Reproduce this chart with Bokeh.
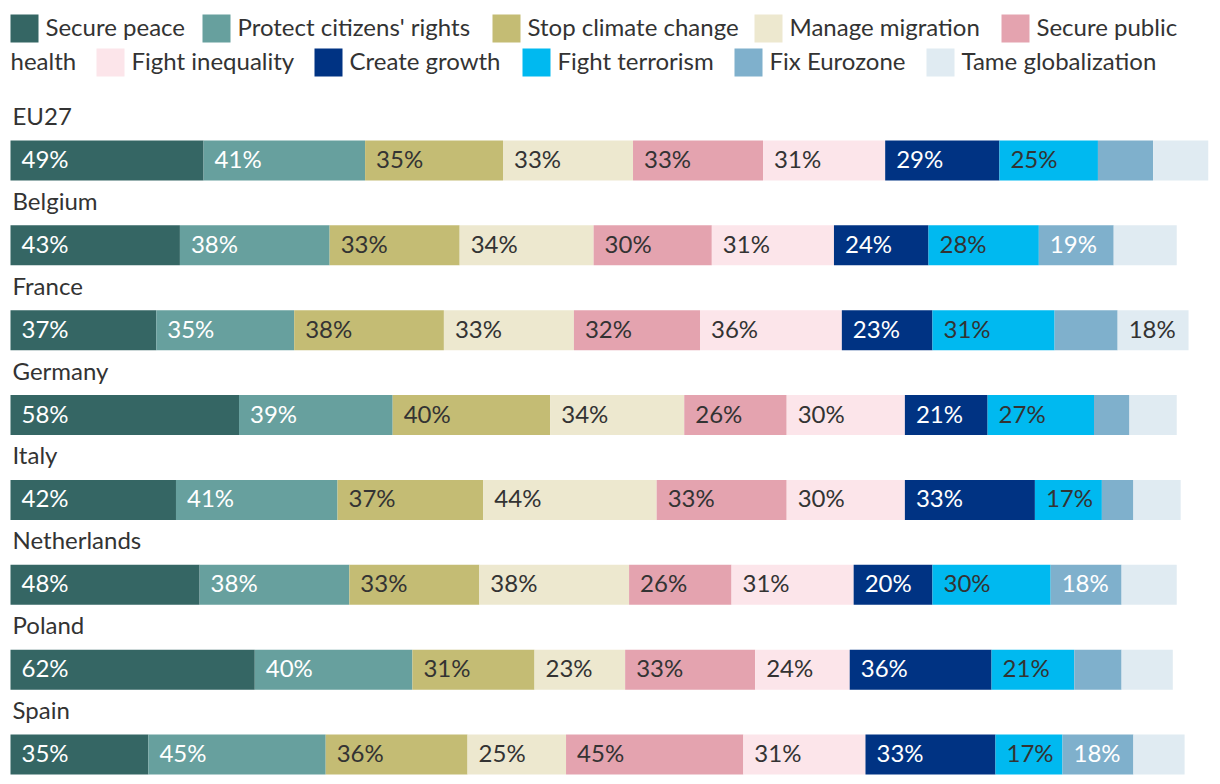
import numpy as np
from bokeh.plotting import figure
from bokeh.models import ColumnDataSource, Range1d
from bokeh.layouts import column
from bokeh.core.properties import value
from bokeh.embed import file_html
from bokeh.resources import INLINE

countries = ["EU27", "Belgium", "France", "Germany", "Italy", "Netherlands", "Poland", "Spain"]
categories = ["Secure peace", "Protect citizens' rights", "Stop climate change", "Manage migration",
              "Secure public health", "Fight inequality", "Create growth", "Fight terrorism",
              "Fix Eurozone", "Tame globalization"]
colors = ["#356664", "#67a09e", "#c4bc74", "#ede8cf", "#e4a3af",
          "#fce5ea", "#003383", "#00b9f0", "#7fb0cc", "#e0ebf2"]
label_colors = ["#ffffff", "#ffffff", "#333333", "#333333", "#333333",
                "#333333", "#ffffff", "#333333", "#ffffff", "#333333"]

secure_peace = [49, 43, 37, 58, 42, 48, 62, 35]
protect_rights = [41, 38, 35, 39, 41, 38, 40, 45]
stop_climate = [35, 33, 38, 40, 37, 33, 31, 36]
manage_migration = [33, 34, 33, 34, 44, 38, 23, 25]
public_health = [33, 30, 32, 26, 33, 26, 33, 45]
fight_inequality = [31, 31, 36, 30, 30, 31, 24, 31]
create_growth = [29, 24, 23, 21, 33, 20, 36, 33]
fight_terrorism = [25, 28, 31, 27, 17, 30, 21, 17]
fix_eurozone = [14, 19, 16, 9, 8, 18, 12, 18]
tame_globalization = [14, 16, 18, 12, 12, 14, 13, 13]

series = [secure_peace, protect_rights, stop_climate, manage_migration, public_health,
          fight_inequality, create_growth, fight_terrorism, fix_eurozone, tame_globalization]

FONT = "Lato"
W = 1212
PX_PER_PCT = 3.94
PITCH = 84.86
LEG_H = 92
BAR_H = 684

# ---------------- legend figure (pixel coordinates) ----------------
leg = figure(width=W, height=LEG_H, output_backend="svg", toolbar_location=None,
             x_range=Range1d(0, W), y_range=Range1d(LEG_H, 0),
             min_border=0, outline_line_color=None)
leg.axis.visible = False
leg.grid.visible = False

sq_x = [10, 202, 492, 754, 1001, 96, 314, 522, 734, 926]
sq_y = [28, 28, 28, 28, 28, 62, 62, 62, 62, 62]
leg_text = ["Secure peace", "Protect citizens' rights", "Stop climate change", "Manage migration",
            "Secure public", "Fight inequality", "Create growth", "Fight terrorism",
            "Fix Eurozone", "Tame globalization"]
leg.rect(x=[x + 14 for x in sq_x], y=sq_y, width=28, height=28, fill_color=colors, line_color=None)
leg.text(x=[x + 35 for x in sq_x], y=[y - 2 for y in sq_y], text=leg_text,
         text_font=value(FONT), text_font_size="24px", text_color="#333333",
         text_baseline="middle", text_align="left")
leg.text(x=[10], y=[60], text=["health"], text_font=value(FONT), text_font_size="24px",
         text_color="#333333", text_baseline="middle", text_align="left")

# ---------------- bars figure ----------------
top_units = 68 / PITCH
tot_units = BAR_H / PITCH
p = figure(width=W, height=BAR_H, output_backend="svg", toolbar_location=None,
           x_range=Range1d(-10 / PX_PER_PCT, (W - 10) / PX_PER_PCT),
           y_range=Range1d(tot_units - top_units, -top_units),
           min_border=0, outline_line_color=None)
p.axis.visible = False
p.grid.visible = False

rows = list(range(len(countries)))
data = {"y": rows}
for c, s in zip(categories, series):
    data[c] = s
src = ColumnDataSource(data)
p.hbar_stack(categories, y="y", height=40 / PITCH, color=colors, line_color=None, source=src)

# country labels
p.text(x=[0] * len(countries), y=[r - 45 / PITCH for r in rows], text=countries,
       text_font=value(FONT), text_font_size="24px", text_color="#333333",
       text_baseline="middle", text_align="left", x_offset=2)

# value labels
arr = np.array(series, dtype=float)
lefts = np.vstack([np.zeros(arr.shape[1]), np.cumsum(arr, axis=0)[:-1]])
lx, ly, lt, lc = [], [], [], []
for k in range(arr.shape[0]):
    for r in rows:
        v = arr[k, r]
        if v >= 17:
            lx.append(lefts[k, r])
            ly.append(r - 2 / PITCH)
            lt.append(f"{int(v)}%")
            lc.append(label_colors[k])
p.text(x=lx, y=ly, text=lt, text_color=lc, text_font=value(FONT), text_font_size="24px",
       text_baseline="middle", text_align="left", x_offset=11)

layout = column(leg, p, spacing=0)
open("out.html", "w").write(file_html(layout, INLINE))
